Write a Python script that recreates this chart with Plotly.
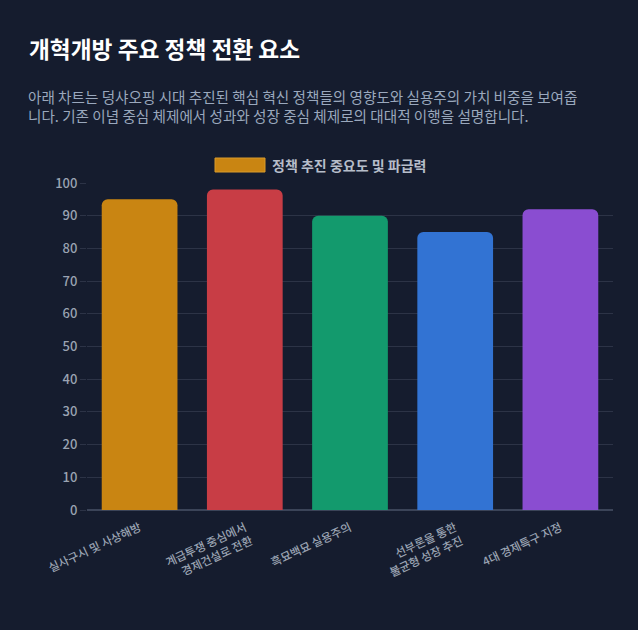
import plotly.graph_objects as go

categories = [
    "실사구시 및 사상해방",
    "계급투쟁 중심에서<br>경제건설로 전환",
    "흑묘백묘 실용주의",
    "선부론을 통한<br>불균형 성장 추진",
    "4대 경제특구 지정",
]
values = [95, 98, 90, 85, 92]
bar_colors = ["#c98512", "#c83d45", "#139a6d", "#3273d3", "#8a4dd1"]
series_name = "정책 추진 중요도 및 파급력"
subtitle = ("아래 차트는 덩샤오핑 시대 추진된 핵심 혁신 정책들의 영향도와 실용주의 가치 비중을 보여줍"
            "<br>니다. 기존 이념 중심 체제에서 성과와 성장 중심 체제로의 대대적 이행을 설명합니다.")

FONT = "Noto Sans CJK KR"
BG = "#151c2e"
GRID = "rgba(148,163,184,0.18)"
TICK = "#9aa3b2"

W, H = 638, 630
ML, MR, MT, MB = 87, 25, 183, 120
pw, ph = W - ML - MR, H - MT - MB


def px(x):
    return (x - ML) / pw


def py(y):
    return (H - MB - y) / ph


fig = go.Figure()
fig.add_trace(go.Bar(
    x=categories, y=values,
    name=series_name,
    marker=dict(color=bar_colors, cornerradius=6, line=dict(width=0)),
    showlegend=False,
))

# chart.js-style legend: wide swatch + bold label
fig.add_shape(type="rect", xref="paper", yref="paper",
              x0=px(215), x1=px(265), y0=py(172), y1=py(158),
              fillcolor=bar_colors[0], line=dict(width=1, color="#d99a2b"))

fig.update_layout(
    width=W, height=H,
    paper_bgcolor=BG, plot_bgcolor=BG,
    margin=dict(l=ML, r=MR, t=MT, b=MB),
    font=dict(family=FONT, color=TICK, size=12),
    bargap=0.28,
    showlegend=False,
    xaxis=dict(
        tickangle=-25, showgrid=False, zeroline=False,
        tickfont=dict(size=11.5, color=TICK, weight=500),
        ticklabelstandoff=8,
        showline=False,
    ),
    yaxis=dict(
        range=[0, 100], dtick=10, gridcolor=GRID, zeroline=True,
        zerolinecolor="rgba(148,163,184,0.3)",
        ticks="outside", ticklen=6, tickcolor=GRID,
        tickfont=dict(size=13, color=TICK, weight=500),
    ),
    annotations=[
        dict(text="<b>개혁개방 주요 정책 전환 요소</b>", xref="paper", yref="paper",
             x=px(27), y=py(48), xanchor="left", yanchor="middle", showarrow=False,
             font=dict(size=22.7, color="#ffffff", family=FONT)),
        dict(text=subtitle, xref="paper", yref="paper", x=px(26), y=py(106.5),
             xanchor="left", yanchor="middle", align="left", showarrow=False,
             font=dict(size=14.6, color="#9aa8bd", family=FONT)),
        dict(text="<b>" + series_name + "</b>", xref="paper", yref="paper",
             x=px(270), y=py(165), xanchor="left", yanchor="middle", showarrow=False,
             font=dict(size=14, color="#b6bdc9", family=FONT)),
    ],
)

fig.write_html(
    "out.html",
    config={"displayModeBar": False},
    post_script="document.body.style.margin='0';document.body.style.background='#151c2e';",
)
